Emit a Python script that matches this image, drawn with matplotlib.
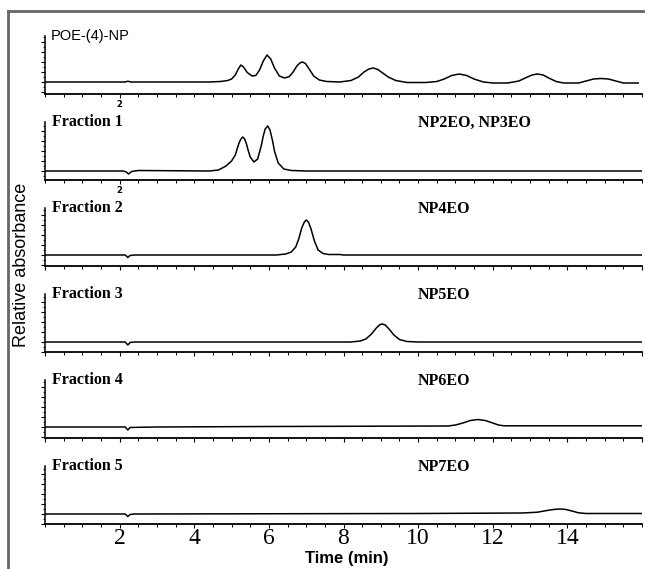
import numpy as np
import matplotlib
matplotlib.use("Agg")
import matplotlib.pyplot as plt
from matplotlib.lines import Line2D
from matplotlib.ticker import MultipleLocator

# trazas (tiempo en min, señal en unidades relativas)
t1 = [0.0, 2.15, 2.22, 2.3, 4.4, 4.7, 4.9, 5.0, 5.1, 5.18, 5.25, 5.32, 5.42, 5.55, 5.65,
      5.75, 5.85, 5.95, 6.05, 6.15, 6.28, 6.42, 6.55, 6.65, 6.75, 6.83, 6.9, 6.98, 7.08,
      7.2, 7.35, 7.55, 7.9, 8.2, 8.4, 8.55, 8.68, 8.8, 8.92, 9.05, 9.2, 9.4, 9.7, 10.2,
      10.5, 10.7, 10.9, 11.1, 11.3, 11.5, 11.75, 12.0, 12.4, 12.7, 12.9, 13.05, 13.2,
      13.35, 13.5, 13.7, 13.9, 14.3, 14.5, 14.7, 14.9, 15.1, 15.3, 15.5, 15.9]
y1 = [0, 0, 0.8, 0, 0, 0.5, 1.5, 3, 7, 13, 17, 15, 9.5, 6, 6.5,
      12, 21, 27, 23, 14, 6, 4, 5.5, 10, 16, 19, 20, 18.5, 13,
      6, 2, 0.5, 0, 1.5, 5, 10, 13, 14, 12.5, 9, 5, 1.5, -0.5, -0.5,
      0.5, 3, 6.5, 8, 6.5, 3, 0, -1, -1, 1, 4.5, 7, 8,
      7, 4, 0.5, -1, -1, 1, 3, 3.5, 3, 1, -1, -1]

t2 = [0, 2.1, 2.18, 2.24, 2.32, 2.5, 4.4, 4.65, 4.85, 5.0, 5.1, 5.15, 5.2, 5.25, 5.3,
      5.35, 5.4, 5.45, 5.5, 5.6, 5.7, 5.8, 5.85, 5.9, 5.97, 6.03, 6.1, 6.15, 6.25, 6.4,
      6.6, 7.0, 16]
y2 = [0, 0, -1, -3, -0.5, 0.5, 0, 1, 5, 10, 16, 22, 28, 32, 34,
      32, 27, 20, 14, 9, 12, 26, 35, 42, 45, 41, 30, 20, 8, 2,
      0.5, 0, 0]

t3 = [0, 2.15, 2.22, 2.28, 2.4, 6.2, 6.45, 6.6, 6.72, 6.8, 6.88, 6.95, 7.0, 7.06,
      7.13, 7.22, 7.32, 7.45, 7.6, 7.9, 8.0, 16]
y3 = [0, 0, -2.5, -0.5, 0, 0, 1, 3, 8, 16, 27, 33, 35, 33,
      26, 14, 5, 1.5, 0.5, 0.5, 0, 0]

t4 = [0, 2.15, 2.22, 2.28, 2.4, 8.2, 8.45, 8.6, 8.75, 8.88, 8.98, 9.04, 9.12, 9.22,
      9.35, 9.5, 9.7, 10.0, 16]
y4 = [0, 0, -3, -0.5, 0, 0, 1, 3, 8, 14, 17.5, 18, 17, 13,
      7, 2.5, 0.5, 0, 0]

t5 = [0, 2.15, 2.22, 2.28, 2.5, 3.0, 6, 10.8, 11.0, 11.2, 11.4, 11.6, 11.8, 12.0,
      12.15, 12.3, 16]
y5 = [0, 0, -3, -0.5, -0.3, 0, 0.5, 1, 2, 4, 6.5, 7.5, 6.5, 4,
      2, 1.2, 1.2]

t6 = [0, 2.15, 2.22, 2.28, 2.4, 10, 12.8, 13.2, 13.45, 13.65, 13.8, 13.95, 14.1,
      14.3, 14.5, 16]
y6 = [0, 0, -2.5, -0.5, 0, 0.5, 1, 1.8, 3.5, 4.6, 5, 4.6, 3.2,
      1.2, 0.5, 0.5]

nombres = ["POE-(4)-NP", "Fraction 1", "Fraction 2", "Fraction 3", "Fraction 4", "Fraction 5"]
compuestos = ["", "NP2EO, NP3EO", "NP4EO", "NP5EO", "NP6EO", "NP7EO"]
ticks_abajo = [2, 4, 6, 8, 10, 12, 14]

tiempos = [t1, t2, t3, t4, t5, t6]
senales = [y1, y2, y3, y4, y5, y6]
offsets = [12, 9, 11, 10, 11, 10]

W, H = 645, 569
fig = plt.figure(figsize=(W / 100, H / 100), dpi=100)

# marco gris del escaneo
fig.add_artist(Line2D([8 / W, 1], [1 - 11 / H, 1 - 11 / H], color="#666666", lw=2))
fig.add_artist(Line2D([8 / W, 8 / W], [0, 1 - 11 / H], color="#666666", lw=2))

x0, x1 = 45, 642
alto = 58
for i in range(6):
    yb = 94 + 86 * i
    ax = fig.add_axes([x0 / W, 1 - yb / H, (x1 - x0) / W, alto / H])
    ax.plot(tiempos[i], senales[i], color="black", lw=1.1)
    ax.set_xlim(0, 16)
    ax.set_ylim(-offsets[i], alto - offsets[i])
    ax.spines["top"].set_visible(False)
    ax.spines["right"].set_visible(False)
    ax.spines["left"].set_linewidth(1.1)
    ax.spines["bottom"].set_linewidth(1.3)
    ax.yaxis.set_major_locator(MultipleLocator(10))
    ax.yaxis.set_minor_locator(MultipleLocator(5))
    ax.tick_params(axis="y", which="major", length=3, width=0.8, labelleft=False)
    ax.tick_params(axis="y", which="minor", length=1.5, width=0.6)
    ax.xaxis.set_minor_locator(MultipleLocator(0.5))
    ax.tick_params(axis="x", which="minor", length=2, width=0.7, direction="out")
    if i == 5:
        ax.set_xticks(ticks_abajo)
        ax.set_xticklabels([str(v) for v in ticks_abajo], family="Liberation Serif", fontsize=17)
        ax.tick_params(axis="x", which="major", length=3, width=0.8, pad=0)
    elif i < 2:
        ax.set_xticks([2])
        ax.set_xticklabels(["2"], fontsize=6, fontweight="bold")
        ax.tick_params(axis="x", which="major", length=3, width=0.8, pad=1)
    else:
        ax.set_xticks(range(0, 17, 2))
        ax.tick_params(axis="x", which="major", length=3, width=0.8, labelbottom=False)

    if i == 0:
        ax.text(0.009, 1.0, nombres[i], transform=ax.transAxes, ha="left", va="center",
                family="Liberation Sans", fontsize=10.5)
    else:
        ax.text(0.011, 1.0, nombres[i], transform=ax.transAxes, ha="left", va="center",
                family="Liberation Serif", fontweight="bold", fontsize=11.5)
        ax.text(10.0, alto - offsets[i] - 1, compuestos[i], ha="left", va="center",
                family="Liberation Serif", fontweight="bold", fontsize=11.5)

fig.text(347 / W, 1 - 558 / H, "Time (min)", ha="center", va="center",
         family="Liberation Sans", fontweight="bold", fontsize=12)
fig.text(22 / W, 1 - 265 / H, "Relative absorbance", ha="center", va="center",
         rotation=90, family="Liberation Sans", fontsize=13)

fig.savefig("out.png", dpi=100)
